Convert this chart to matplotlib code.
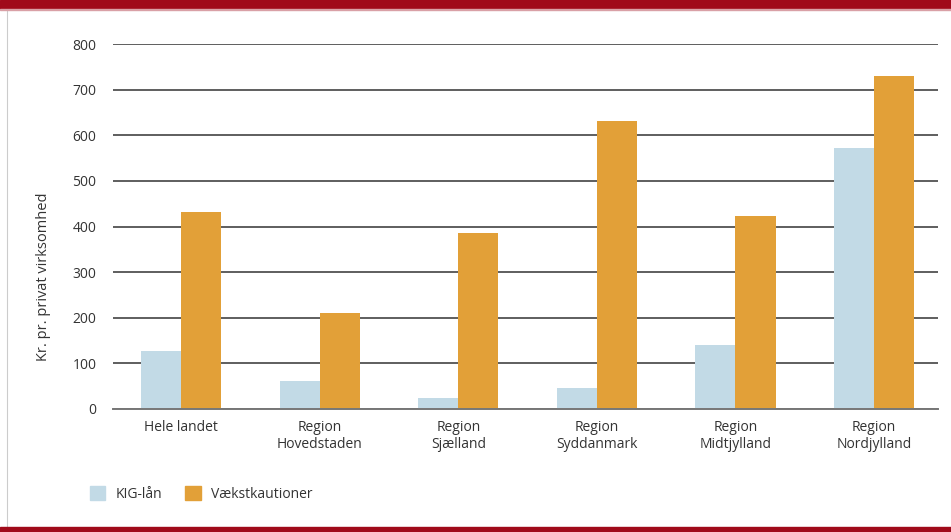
import numpy as np
import matplotlib
matplotlib.use("Agg")
import matplotlib.pyplot as plt
from matplotlib.patches import Rectangle, Patch
from matplotlib.lines import Line2D

regions = ["Hele landet", "Region\nHovedstaden", "Region\nSjælland",
           "Region\nSyddanmark", "Region\nMidtjylland", "Region\nNordjylland"]
kig_laan = [127, 61, 24, 46, 140, 572]
vaekstkautioner = [432, 210, 386, 631, 423, 730]
yticks = [0, 100, 200, 300, 400, 500, 600, 700, 800]

blue = "#c2dae6"
orange = "#e2a038"
red = "#a00a1a"
text_col = "#333333"

plt.rcParams['font.family'] = ['Open Sans', 'DejaVu Sans']

fig = plt.figure(figsize=(9.51, 5.32), dpi=100)
W, H = 951, 532
ax = fig.add_axes([113 / W, 1 - 409 / H, 825 / W, 365 / H])

x = np.arange(len(regions))
bw = 0.289
ax.bar(x - bw / 2, kig_laan, bw, color=blue, zorder=3, label="KIG-lån")
ax.bar(x + bw / 2, vaekstkautioner, bw, color=orange, zorder=3, label="Vækstkautioner")

ax.set_xlim(-0.491, 5.461)
ax.set_ylim(0, 800)
ax.set_yticks(yticks)
ax.set_yticklabels([str(v) for v in yticks])
ax.set_xticks(x)
ax.set_xticklabels(regions)
ax.yaxis.grid(True, color="#333333", linewidth=1.1, zorder=1)
ax.set_axisbelow(True)
for s in ["top", "right", "left"]:
    ax.spines[s].set_visible(False)
ax.spines["bottom"].set_color("#777777")
ax.spines["bottom"].set_linewidth(1.4)
ax.spines["bottom"].set_zorder(4)
ax.tick_params(axis="both", length=0, labelsize=10, colors=text_col)
ax.tick_params(axis="y", pad=12)
ax.tick_params(axis="x", pad=8)

# y label sits a bit below the axes centre
ax.set_ylabel("Kr. pr. privat virksomhed", fontsize=10.5, color=text_col)
ax.yaxis.set_label_coords((51 - 113) / 825, (409 - 277) / 365)

handles = [Patch(color=blue, label="KIG-lån"), Patch(color=orange, label="Vækstkautioner")]
fig.legend(handles=handles, loc="center left", bbox_to_anchor=(77 / W, 1 - 494 / H),
           frameon=False, fontsize=10, ncol=2, handlelength=1.15, handleheight=1.15,
           columnspacing=1.6, handletextpad=0.75, labelcolor=text_col)

# frame bands
fig.add_artist(Rectangle((0, 1 - 9 / H), 1, 9 / H, transform=fig.transFigure,
                         color=red, zorder=5))
fig.add_artist(Rectangle((0, 1 - 10 / H), 1, 1 / H, transform=fig.transFigure,
                         color="#d9a0a6", zorder=5))
fig.add_artist(Rectangle((0, 0), 1, 5 / H, transform=fig.transFigure,
                         color=red, zorder=5))
fig.add_artist(Line2D([7 / W, 7 / W], [5 / H, 1 - 10 / H], transform=fig.transFigure,
                      color="#cccccc", linewidth=0.8))

fig.savefig("out.png", dpi=100)
